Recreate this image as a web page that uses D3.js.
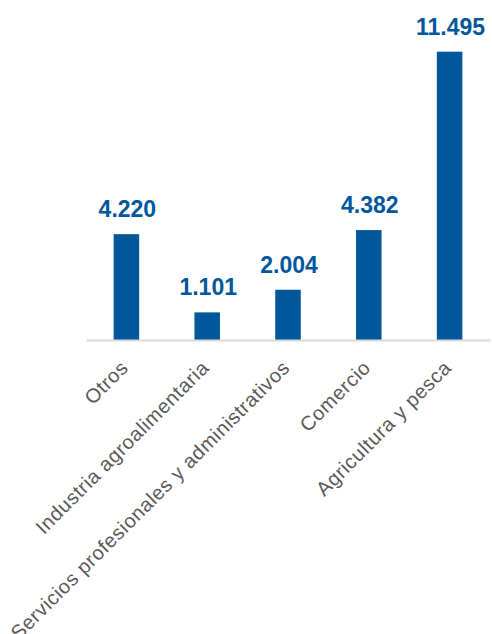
<!DOCTYPE html>
<html>
<head>
<meta charset="utf-8">
<script src="https://cdn.jsdelivr.net/npm/d3@7/dist/d3.min.js"></script>
<style>
  html, body { margin: 0; padding: 0; background: #ffffff; }
  svg { display: block; }
</style>
</head>
<body>
<svg id="chart" width="492" height="634"></svg>
<script>
const categories = ["Otros", "Industria agroalimentaria", "Servicios profesionales y administrativos", "Comercio", "Agricultura y pesca"];
const values = [4220, 1101, 2004, 4382, 11495];

const svg = d3.select("#chart");
const baseY = 340;
const left = 86, right = 490;

const locale = d3.formatLocale({ decimal: ",", thousands: ".", grouping: [3], currency: ["", " €"] });
const fmt = locale.format(",d");

const x = d3.scaleBand().domain(categories).range([left, right]).paddingInner(0.684).paddingOuter(0.342);
const y = d3.scaleLinear().domain([0, 12000]).range([baseY, 39]);

const data = categories.map((c, i) => ({ c, v: values[i] }));

// bars
svg.append("g").selectAll("rect").data(data).join("rect")
  .attr("x", d => x(d.c))
  .attr("y", d => y(d.v))
  .attr("width", x.bandwidth())
  .attr("height", d => y(0) - y(d.v))
  .attr("fill", "#00579c");

// axis
const axis = svg.append("g").attr("transform", `translate(0,${baseY})`)
  .call(d3.axisBottom(x).tickSize(0).tickSizeOuter(0));
axis.select(".domain").attr("stroke", "#d9d9d9").attr("stroke-width", 2);
axis.selectAll(".tick text")
  .attr("font-family", "'Liberation Sans', Arial, sans-serif")
  .attr("font-size", 20)
  .attr("letter-spacing", "0.6px")
  .attr("fill", "#595959")
  .attr("text-anchor", "end")
  .attr("dy", null)
  .attr("y", null)
  .attr("transform", "translate(3,29) rotate(-45)");

// value labels
svg.append("g").selectAll("text").data(data).join("text")
  .attr("x", d => x(d.c) + x.bandwidth() / 2 + 1)
  .attr("y", d => y(d.v) - 17)
  .attr("text-anchor", "middle")
  .attr("font-family", "'Liberation Sans', Arial, sans-serif")
  .attr("font-weight", "bold")
  .attr("font-size", 23)
  .attr("fill", "#00579c")
  .text(d => fmt(d.v));
</script>
</body>
</html>
